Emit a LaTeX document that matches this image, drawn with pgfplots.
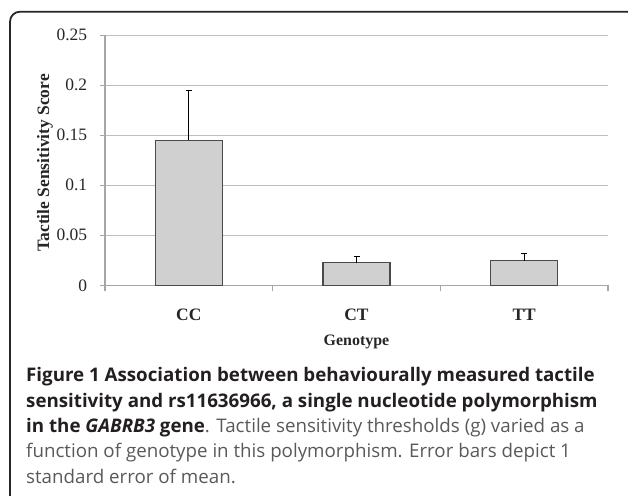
\documentclass[border=0pt]{standalone}
\usepackage{fontspec}
\setmainfont{Liberation Serif}
\newfontfamily\capfont{Open Sans}
\usepackage{pgfplots}
\pgfplotsset{compat=1.18}
\definecolor{gridgray}{HTML}{BDBDBD}
\definecolor{axisgray}{HTML}{A6A6A6}
\definecolor{barfill}{HTML}{D0D0D0}
\definecolor{bardraw}{HTML}{4A4A4A}
\definecolor{capdark}{HTML}{231F20}
\definecolor{capgray}{HTML}{58595B}
\begin{document}
\begin{tikzpicture}[x=1bp,y=1bp]
\useasboundingbox (0,0) rectangle (628,496);
\begin{scope}
\clip (0,0) rectangle (628,496);
\draw[line width=1.8bp, color=black!85, rounded corners=10bp] (10,-20) -- (10,484.3) -- (637,484.3) -- (637,-20);
\end{scope}
\begin{axis}[
  at={(105bp,210.7bp)}, anchor=south west,
  scale only axis, width=503bp, height=250bp,
  xmin=-0.5, xmax=2.5, ymin=0, ymax=0.25,
  axis x line=bottom, axis y line=left,
  axis line style={-, color=axisgray, line width=1.2bp},
  ybar, bar width=67bp,
  xtick={0,1,2}, xticklabels={CC,CT,TT},
  minor xtick={-0.5,0.5,1.5,2.5},
  major x tick style={draw=none},
  minor x tick style={color=axisgray, line width=1.2bp},
  ytick={0,0.05,0.1,0.15,0.2,0.25},
  yticklabels={0,0.05,0.1,0.15,0.2,0.25},
  y tick style={color=axisgray, line width=1.2bp},
  tick align=outside, major tick length=5bp, minor tick length=6bp,
  ymajorgrids, grid style={color=gridgray, line width=1.2bp},
  yticklabel style={font=\fontsize{17.5}{17.5}\selectfont, color=black!85, anchor=east, xshift=-9.3bp},
  xticklabel style={font=\bfseries\fontsize{17.5}{17.5}\selectfont, color=black!85, anchor=base, yshift=-30bp},
  xlabel={Genotype},
  xlabel style={font=\bfseries\fontsize{16}{16}\selectfont, color=black!85, at={(axis description cs:0.5,0)}, anchor=base, yshift=-60.7bp},
  ylabel={Tactile Sensitivity Score},
  ylabel style={font=\bfseries\fontsize{17.5}{17.5}\selectfont, color=black!85, at={(axis description cs:-0.1113,0.49)}, anchor=base},
]
\addplot[fill=barfill, draw=bardraw, line width=1.2bp,
  error bars/.cd, y dir=plus, y explicit,
  error bar style={black, line width=1bp},
  error mark options={rotate=90, mark size=3bp, line width=1bp, black}]
  coordinates {(0,0.145) +- (0,0.050) (1,0.0225) +- (0,0.0058) (2,0.0245) +- (0,0.0075)};
\end{axis}
\begin{scope}[every node/.style={anchor=base west, inner sep=0, font=\capfont\fontsize{18.8}{18.8}\selectfont}]
\node[color=capdark] at (26,114) {\bfseries Figure 1 Association between behaviourally measured tactile};
\node[color=capdark] at (26,88.7) {\bfseries sensitivity and rs11636966, a single nucleotide polymorphism};
\node[color=capgray] at (26,63.4) {\textcolor{capdark}{\bfseries in the \itshape GABRB3\upshape\ gene}. Tactile sensitivity thresholds (g) varied as a};
\node[color=capgray] at (26,38.1) {function of genotype in this polymorphism. Error bars depict 1};
\node[color=capgray] at (26,12.8) {standard error of mean.};
\end{scope}
\end{tikzpicture}
\end{document}
